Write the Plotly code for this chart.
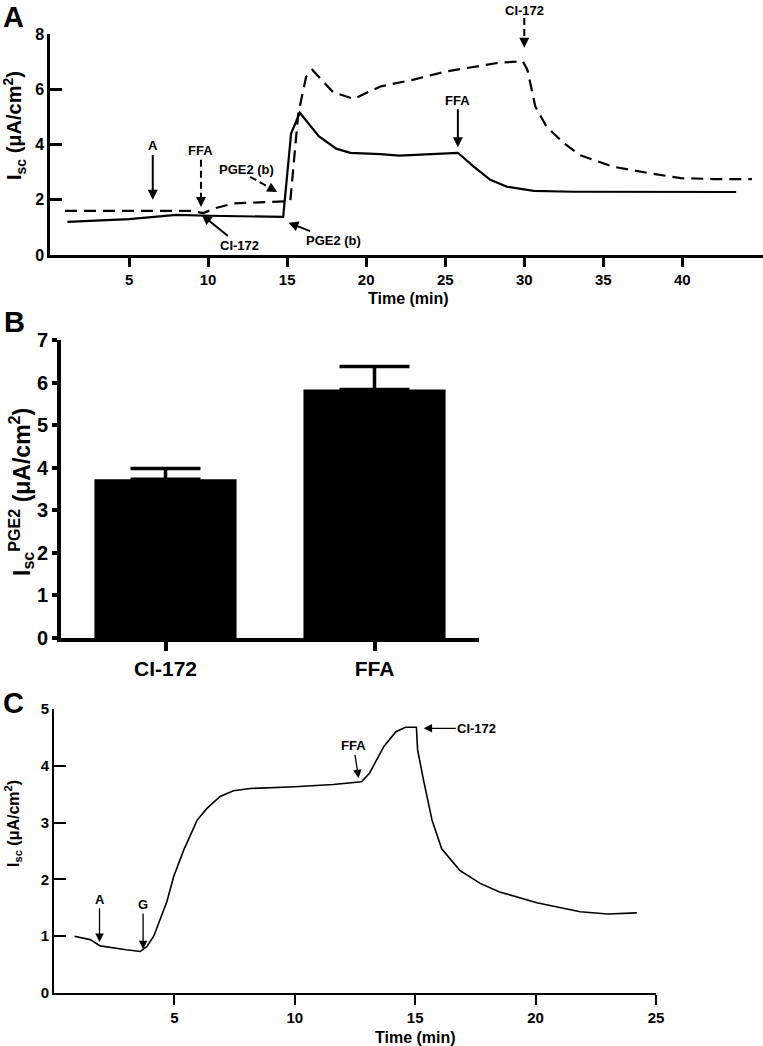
import plotly.graph_objects as go

# ---------------- Panel A data ----------------
a_time_solid = [1.1, 5.0, 8.0, 10.0, 14.75, 15.25, 15.8, 17.0, 18.1, 19.0, 20.9, 22.1, 25.8,
                26.8, 27.85, 28.9, 30.6, 33.1, 43.4]
a_isc_solid = [1.2, 1.3, 1.45, 1.42, 1.38, 4.4, 5.15, 4.3, 3.85, 3.7, 3.65, 3.6, 3.7,
               3.2, 2.72, 2.47, 2.32, 2.29, 2.28]
a_time_dashed = [0.95, 8.9, 9.7, 10.5, 11.6, 13.5, 15.2, 15.7, 16.2, 16.6, 17.9, 19.2, 20.9,
                 23.0, 25.1, 28.3, 29.9, 30.2, 30.5, 30.7, 31.4, 32.5, 33.5, 35.6, 37.8,
                 39.9, 42.0, 44.4]
a_isc_dashed = [1.6, 1.6, 1.52, 1.7, 1.87, 1.9, 1.95, 5.1, 6.45, 6.7, 5.9, 5.65, 6.1,
                6.35, 6.65, 6.95, 7.02, 6.7, 5.85, 5.37, 4.65, 4.05, 3.62, 3.2, 2.97,
                2.78, 2.75, 2.75]
a_xticks = [5, 10, 15, 20, 25, 30, 35, 40]
a_yticks = [0, 2, 4, 6, 8]

# ---------------- Panel B data ----------------
b_categories = ["CI-172", "FFA"]
b_means = [3.73, 5.84]
b_sem = [0.25, 0.54]
b_yticks = [0, 1, 2, 3, 4, 5, 6, 7]

# ---------------- Panel C data ----------------
c_time = [0.85, 1.5, 1.92, 2.5, 3.0, 3.58, 3.86, 4.14, 4.28, 4.69, 4.97, 5.39, 5.94, 6.35,
          6.9, 7.45, 8.15, 10.0, 11.6, 12.77, 13.1, 13.7, 14.2, 14.6, 15.05, 15.1, 15.35,
          15.7, 16.1, 16.85, 17.7, 18.5, 20.05, 21.85, 23.0, 24.2]
c_isc = [1.0, 0.94, 0.83, 0.79, 0.76, 0.73, 0.82, 1.0, 1.15, 1.61, 2.05, 2.52, 3.04, 3.25,
         3.46, 3.56, 3.6, 3.63, 3.67, 3.72, 3.87, 4.34, 4.6, 4.68, 4.68, 4.28, 3.74,
         3.04, 2.54, 2.16, 1.93, 1.78, 1.59, 1.43, 1.39, 1.41]
c_xticks = [5, 10, 15, 20, 25]
c_yticks = [0, 1, 2, 3, 4, 5]

W, H = 763, 1046
FAM = "Liberation Sans, Arial, sans-serif"


def fx(p):
    return p / W


def fy(p):
    return 1 - p / H


def bold(size):
    return dict(family=FAM, size=size, color="black", weight="bold")


fig = go.Figure()

fig.add_trace(go.Scatter(x=a_time_solid, y=a_isc_solid, mode="lines",
                         line=dict(color="black", width=2.2), xaxis="x", yaxis="y",
                         showlegend=False, hoverinfo="skip"))
fig.add_trace(go.Scatter(x=a_time_dashed, y=a_isc_dashed, mode="lines",
                         line=dict(color="black", width=2.2, dash="12px,7px"),
                         xaxis="x", yaxis="y", showlegend=False, hoverinfo="skip"))

fig.add_trace(go.Bar(x=b_categories, y=b_means, width=0.68, marker=dict(color="black", line=dict(width=0)),
                     error_y=dict(type="data", symmetric=False, array=b_sem, arrayminus=[0, 0],
                                  color="black", thickness=3.5, width=35),
                     xaxis="x2", yaxis="y2", showlegend=False, hoverinfo="skip"))

fig.add_trace(go.Scatter(x=c_time, y=c_isc, mode="lines",
                         line=dict(color="black", width=1.6), xaxis="x3", yaxis="y3",
                         showlegend=False, hoverinfo="skip"))

common = dict(showgrid=False, zeroline=False, showline=True, linecolor="black",
              tickcolor="black", fixedrange=True, automargin=False)

fig.update_layout(
    template="none",
    width=W, height=H, margin=dict(l=0, r=0, t=0, b=0, pad=0, autoexpand=False),
    paper_bgcolor="white", plot_bgcolor="white",
    xaxis=dict(domain=[fx(50), 1.0], range=[0, 45.1], tickvals=a_xticks, ticks="outside",
               ticklen=9, tickwidth=2.5, linewidth=2.5, anchor="y", tickfont=bold(15), **common),
    yaxis=dict(domain=[fy(255), fy(34)], range=[0, 8], tickvals=a_yticks, ticks="inside",
               ticklen=12, tickwidth=2.5, linewidth=2.5, anchor="x", tickfont=bold(16), **common),
    xaxis2=dict(domain=[fx(61), fx(479)], range=[-0.5, 1.5], type="category", ticks="outside",
                ticklen=9, tickwidth=4, linewidth=4, anchor="y2", tickfont=bold(21), **common),
    yaxis2=dict(domain=[fy(638), fy(340)], range=[0, 7], tickvals=b_yticks, ticks="outside",
                ticklen=5, tickwidth=4, linewidth=4, anchor="x2", tickfont=bold(20), **common),
    xaxis3=dict(domain=[fx(54), fx(656)], range=[0, 25], tickvals=c_xticks, ticks="outside",
                ticklen=10, tickwidth=1.6, linewidth=1.6, anchor="y3", tickfont=bold(15), **common),
    yaxis3=dict(domain=[fy(993), fy(709)], range=[0, 5], tickvals=c_yticks, ticks="inside",
                ticklen=12, tickwidth=1.6, linewidth=1.6, anchor="x3", tickfont=bold(15), **common),
)

ann = []
ctr = dict(xanchor="center", yanchor="middle")
# panel letters
for letter, (xp, yp) in {"A": (13, 17), "B": (14, 322), "C": (13, 703)}.items():
    ann.append(dict(text=letter, x=fx(xp), y=fy(yp), xref="paper", yref="paper",
                    showarrow=False, font=bold(29), **ctr))

# axis titles
ann.append(dict(text="I<sub>sc</sub> (μA/cm<sup>2</sup>)", x=fx(14), y=fy(126), xref="paper",
                yref="paper", textangle=-90, showarrow=False, font=bold(20), **ctr))
ann.append(dict(text="Time (min)", x=fx(408), y=fy(298), xref="paper", yref="paper",
                showarrow=False, font=bold(16), **ctr))
ann.append(dict(text="I<sub>sc</sub><sup>PGE2</sup> (μA/cm<sup>2</sup>)", x=fx(21), y=fy(492),
                xref="paper", yref="paper", textangle=-90, showarrow=False, font=bold(23), **ctr))
ann.append(dict(text="I<sub>sc</sub> (μA/cm<sup>2</sup>)", x=fx(13), y=fy(824), xref="paper",
                yref="paper", textangle=-90, showarrow=False, font=bold(16), **ctr))
ann.append(dict(text="Time (min)", x=fx(415), y=fy(1037), xref="paper", yref="paper",
                showarrow=False, font=bold(16), **ctr))

# panel A event annotations (solid arrows)
arrA = dict(xref="x", yref="y", axref="x", ayref="y", showarrow=True, arrowhead=2,
            arrowsize=1, arrowwidth=2, arrowcolor="black", font=bold(13), standoff=0)
ann.append(dict(text="A", x=6.5, y=2.0, ax=6.5, ay=3.95, **arrA))
ann.append(dict(text="FFA", x=25.8, y=3.9, ax=25.8, ay=5.6, **arrA))
ann.append(dict(text="CI-172", x=9.6, y=1.45, ax=11.96, ay=0.36, **arrA))
ann.append(dict(text="PGE2 (b)", x=15.08, y=1.17, ax=17.93, ay=0.54, **arrA))
# panel A dashed-arrow labels and heads
ann.append(dict(text="FFA", x=9.55, y=3.8, xref="x", yref="y", showarrow=False, font=bold(13)))
ann.append(dict(text="PGE2 (b)", x=12.45, y=3.08, xref="x", yref="y", showarrow=False, font=bold(13)))
ann.append(dict(text="CI-172", x=30, y=fy(10), xref="x", yref="paper", showarrow=False,
                font=bold(13), yanchor="middle"))
ann.append(dict(text="", x=9.55, y=1.74, ax=9.55, ay=2.1, **arrA))
ann.append(dict(text="", x=14.37, y=2.28, ax=13.82, ay=2.46, **arrA))
ann.append(dict(text="", x=30, y=7.5, ax=30, ay=7.86, **arrA))

# panel C annotations
arrC = dict(xref="x3", yref="y3", axref="x3", ayref="y3", showarrow=True, arrowhead=2,
            arrowsize=1.3, arrowwidth=1.3, arrowcolor="black", font=bold(13), standoff=0)
ann.append(dict(text="A", x=1.89, y=0.9, ax=1.89, ay=1.65, **arrC))
ann.append(dict(text="G", x=3.7, y=0.77, ax=3.7, ay=1.56, **arrC))
ann.append(dict(text="FFA", x=12.65, y=3.78, ax=12.44, ay=4.35, **arrC))
ann.append(dict(text="CI-172", x=15.35, y=4.66, ax=17.56, ay=4.66, **arrC))

fig.update_layout(annotations=ann)

# dashed shafts for panel A arrows
dash_line = dict(color="black", width=2, dash="7px,4px")
fig.add_shape(type="line", xref="x", yref="y", x0=9.55, y0=3.45, x1=9.55, y1=2.05, line=dash_line)
fig.add_shape(type="line", xref="x", yref="y", x0=12.66, y0=2.83, x1=13.85, y1=2.45, line=dash_line)
fig.add_shape(type="line", xref="x", yref="paper", x0=30, y0=fy(18), x1=30, y1=fy(42), line=dash_line)

fig.write_html("out.html", config={"displayModeBar": False},
               post_script="document.body.style.margin='0';document.body.style.overflow='hidden';")
